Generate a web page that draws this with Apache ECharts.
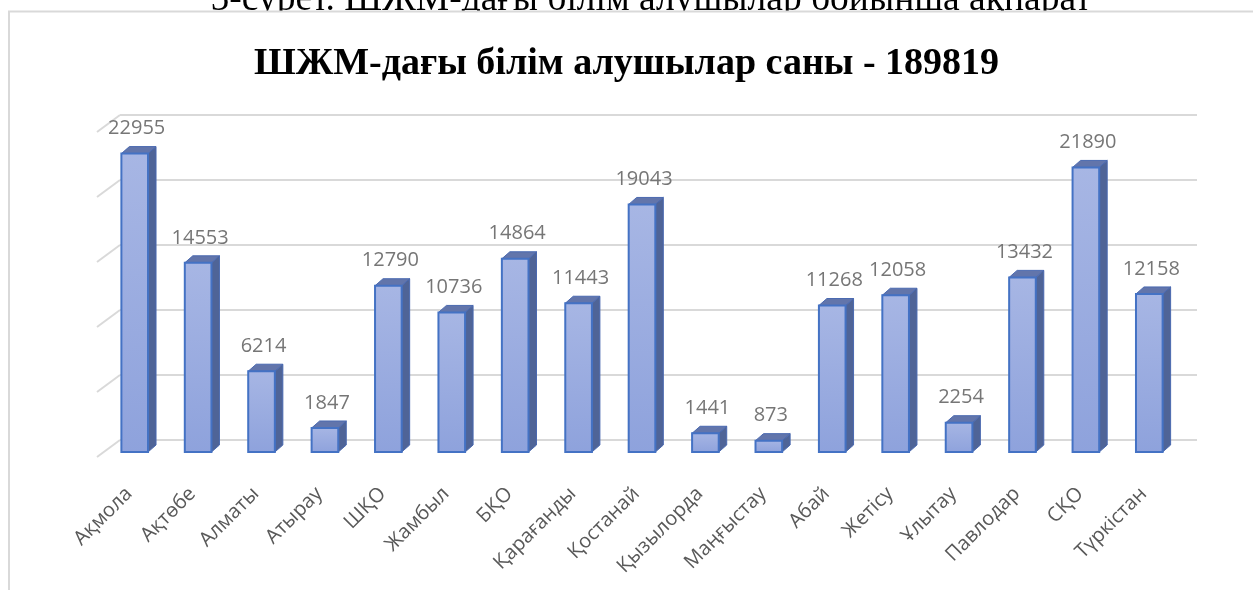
<!DOCTYPE html>
<html>
<head>
<meta charset="utf-8">
<title>ШЖМ-дағы білім алушылар</title>
<script src="https://cdn.jsdelivr.net/npm/echarts@6/dist/echarts.min.js"></script>
<style>
  html, body { margin: 0; padding: 0; background: #fff; }
  #chart { width: 1253px; height: 590px; }
</style>
</head>
<body>
<div id="chart"></div>
<script>
// облыстар
var regions = ['Ақмола', 'Ақтөбе', 'Алматы', 'Атырау', 'ШҚО', 'Жамбыл', 'БҚО', 'Қарағанды', 'Қостанай',
  'Қызылорда', 'Маңғыстау', 'Абай', 'Жетісу', 'Ұлытау', 'Павлодар', 'СҚО', 'Түркістан'];
// білім алушылар саны
var students = [22955, 14553, 6214, 1847, 12790, 10736, 14864, 11443, 19043,
  1441, 873, 11268, 12058, 2254, 13432, 21890, 12158];
// артқы қабырғадағы тор сызықтары
var gridTicks = [0, 5000, 10000, 15000, 20000, 25000];

var captionText = '5-сурет. ШЖМ-дағы білім алушылар бойынша ақпарат';
var titleText = 'ШЖМ-дағы білім алушылар саны - 189819';

var DX = 8, DY = -7; // 3D тереңдігі

var chart = echarts.init(document.getElementById('chart'));

/* 3D бағана: алдыңғы, бүйір және үстіңгі беттер */
function renderBar(params, api) {
  var idx = api.value(0);
  var val = api.value(1);
  var top = api.coord([idx, val]);
  var base = api.coord([idx, 0]);
  var w = api.size([1, 0])[0] * 0.42;
  var x0 = top[0] - w / 2, x1 = top[0] + w / 2;
  var y0 = top[1], y1 = base[1];
  var edge = '#4472c4';
  return {
    type: 'group',
    children: [
      {
        type: 'polygon',
        shape: { points: [[x1, y0], [x1 + DX, y0 + DY], [x1 + DX, y1 + DY], [x1, y1]] },
        style: { fill: '#4f6497', stroke: '#4a69b0', lineWidth: 1 }
      },
      {
        type: 'polygon',
        shape: { points: [[x0, y0], [x0 + DX, y0 + DY], [x1 + DX, y0 + DY], [x1, y0]] },
        style: { fill: '#6275ab', stroke: '#4a69b0', lineWidth: 1 }
      },
      {
        type: 'rect',
        shape: { x: x0, y: y0, width: w, height: y1 - y0 },
        style: {
          fill: new echarts.graphic.LinearGradient(0, 0, 0, 1, [
            { offset: 0, color: '#a7b6e4' },
            { offset: 1, color: '#8ea2dc' }
          ]),
          stroke: edge,
          lineWidth: 2
        }
      },
      {
        type: 'text',
        x: top[0] + DX / 2 - 2,
        y: y0 + DY - 8,
        style: {
          text: String(val),
          fill: '#767676',
          font: '20px "Open Sans"',
          align: 'center',
          verticalAlign: 'bottom'
        }
      }
    ]
  };
}

/* сол жақ қабырғаның қиғаш сызықтары */
function renderWall(params, api) {
  var p = api.coord([0, api.value(0)]);
  var x = params.coordSys.x;
  return {
    type: 'line',
    shape: { x1: x, y1: p[1], x2: x - 23, y2: p[1] + 17 },
    style: { stroke: '#d9d9d9', lineWidth: 2 }
  };
}

var option = {
  backgroundColor: '#fff',
  animation: false,
  title: {
    text: titleText,
    left: 'center',
    top: 40,
    textStyle: {
      fontFamily: '"Liberation Serif", serif',
      fontWeight: 'bold',
      fontSize: 38,
      color: '#000'
    }
  },
  graphic: [
    {
      type: 'text',
      z: -20,
      x: 651,
      y: 19,
      style: {
        text: captionText,
        font: '37.5px "Liberation Serif"',
        fill: '#000',
        align: 'center',
        verticalAlign: 'bottom'
      }
    },
    {
      type: 'rect',
      z: -10,
      shape: { x: 9, y: 11.5, width: 1270, height: 620 },
      style: { fill: '#fff', stroke: '#d9d9d9', lineWidth: 2 }
    }
  ],
  grid: [
    { left: 120, right: 56, top: 115, bottom: 150 },
    { left: 103, right: 72, top: 127, bottom: 138 }
  ],
  xAxis: [
    {
      type: 'category',
      gridIndex: 0,
      data: regions,
      show: false
    },
    {
      type: 'category',
      gridIndex: 1,
      data: regions,
      axisLine: { show: false },
      axisTick: { show: false },
      axisLabel: {
        interval: 0,
        rotate: 45,
        margin: 33,
        padding: [0, 8, 0, 0],
        color: '#595959',
        fontSize: 20,
        fontFamily: '"Open Sans"'
      }
    }
  ],
  yAxis: [
    {
      type: 'value',
      gridIndex: 0,
      min: 0,
      max: 25000,
      interval: 5000,
      axisLine: { show: false },
      axisTick: { show: false },
      axisLabel: { show: false },
      splitLine: { lineStyle: { color: '#d9d9d9', width: 2 } }
    },
    {
      type: 'value',
      gridIndex: 1,
      min: 0,
      max: 25000,
      interval: 5000,
      show: false,
      splitLine: { show: false }
    }
  ],
  series: [
    {
      type: 'custom',
      xAxisIndex: 0,
      yAxisIndex: 0,
      renderItem: renderWall,
      data: gridTicks.map(function (v) { return [v]; }),
      silent: true,
      z: 1
    },
    {
      type: 'custom',
      xAxisIndex: 1,
      yAxisIndex: 1,
      renderItem: renderBar,
      encode: { x: 0, y: 1 },
      data: students.map(function (v, i) { return [i, v]; }),
      clip: false,
      z: 3
    }
  ]
};

chart.setOption(option);
window.addEventListener('resize', function () { chart.resize(); });
</script>
</body>
</html>
